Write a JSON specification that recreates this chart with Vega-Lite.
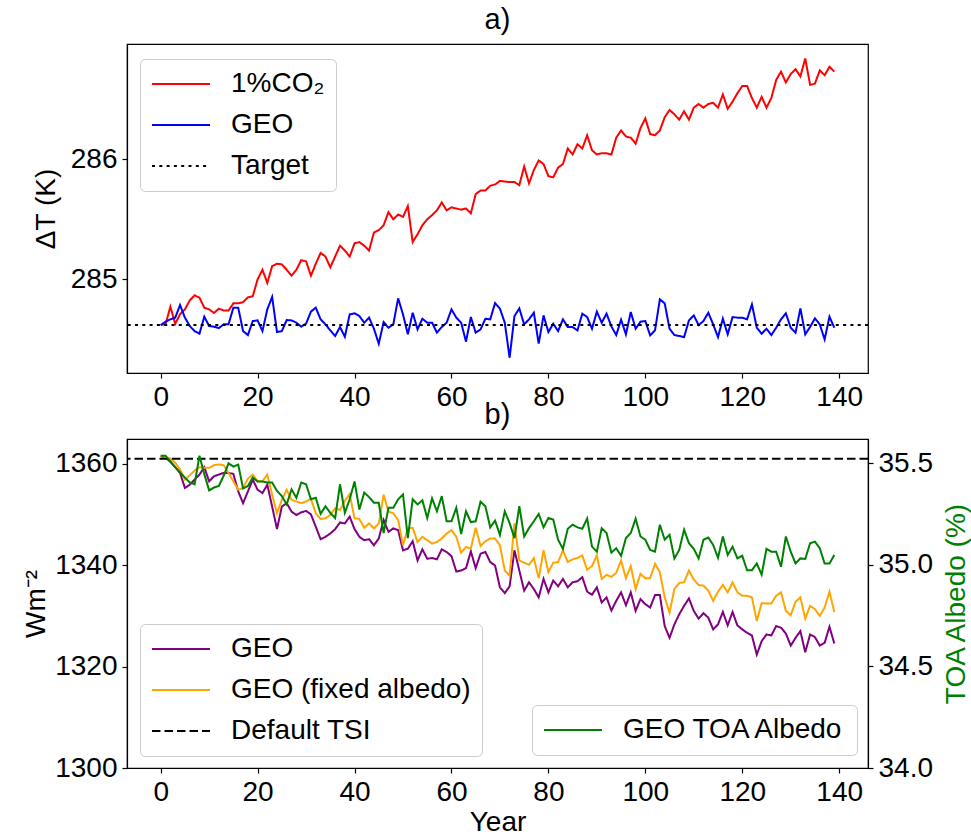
{
"$schema":"https://vega.github.io/schema/vega-lite/v6.json",
"padding":{"left":22,"top":5,"right":5,"bottom":5},
"config":{
 "font":"Liberation Sans",
 "view":{"stroke":"black","strokeWidth":1.2},
 "axis":{"grid":false,"domainColor":"black","domainWidth":1.2,"tickColor":"black","tickWidth":1.2,"tickSize":5,"labelFontSize":28,"labelColor":"black","titleFontSize":28,"titleFontWeight":"normal","titleColor":"black","labelPadding":5,"labelFont":"Liberation Sans","titleFont":"Liberation Sans"},
 "title":{"fontSize":29,"fontWeight":"normal","offset":9,"font":"Liberation Sans","color":"black"},
 "legend":{"title":null,"symbolType":"stroke","symbolSize":3364,"symbolStrokeWidth":2,"labelFontSize":28,"labelOffset":20,"clipHeight":28,"rowPadding":13,"padding":11,"labelLimit":0,"strokeColor":"#cccccc","fillColor":"rgba(255,255,255,0.8)","cornerRadius":5,"labelColor":"black","labelFont":"Liberation Sans","orient":"none"}
},
"datasets":{
 "main":[
{"year":0,"co2":284.62,"geoT":284.619,"geoS":1361.53,"geoSfix":1361.53,"alb":35.538},
{"year":1,"co2":284.625,"geoT":284.647,"geoS":1361.2,"geoSfix":1361.33,"alb":35.538},
{"year":2,"co2":284.772,"geoT":284.667,"geoS":1360.4,"geoSfix":1361.07,"alb":35.51},
{"year":3,"co2":284.63,"geoT":284.681,"geoS":1359.34,"geoSfix":1360.21,"alb":35.48},
{"year":4,"co2":284.71,"geoT":284.786,"geoS":1358.21,"geoSfix":1358.88,"alb":35.455},
{"year":5,"co2":284.75,"geoT":284.681,"geoS":1355.23,"geoSfix":1356.89,"alb":35.43},
{"year":6,"co2":284.825,"geoT":284.611,"geoS":1355.89,"geoSfix":1357.75,"alb":35.406},
{"year":7,"co2":284.867,"geoT":284.569,"geoS":1356.89,"geoSfix":1358.68,"alb":35.397},
{"year":8,"co2":284.847,"geoT":284.547,"geoS":1357.88,"geoSfix":1359.34,"alb":35.538},
{"year":9,"co2":284.764,"geoT":284.689,"geoS":1359.34,"geoSfix":1359.21,"alb":35.447},
{"year":10,"co2":284.75,"geoT":284.611,"geoS":1356.55,"geoSfix":1359.21,"alb":35.367},
{"year":11,"co2":284.72,"geoT":284.606,"geoS":1357.55,"geoSfix":1359.74,"alb":35.381},
{"year":12,"co2":284.756,"geoT":284.594,"geoS":1357.88,"geoSfix":1359.87,"alb":35.389},
{"year":13,"co2":284.74,"geoT":284.625,"geoS":1358.21,"geoSfix":1359.74,"alb":35.439},
{"year":14,"co2":284.74,"geoT":284.625,"geoS":1358.21,"geoSfix":1358.21,"alb":35.5},
{"year":15,"co2":284.8,"geoT":284.764,"geoS":1358.01,"geoSfix":1356.55,"alb":35.484},
{"year":16,"co2":284.8,"geoT":284.764,"geoS":1354.56,"geoSfix":1354.89,"alb":35.494},
{"year":17,"co2":284.81,"geoT":284.569,"geoS":1352.24,"geoSfix":1355.23,"alb":35.376},
{"year":18,"co2":284.85,"geoT":284.536,"geoS":1354.56,"geoSfix":1357.08,"alb":35.389},
{"year":19,"co2":284.86,"geoT":284.653,"geoS":1356.89,"geoSfix":1357.88,"alb":35.43},
{"year":20,"co2":285.0,"geoT":284.658,"geoS":1354.89,"geoSfix":1356.55,"alb":35.411},
{"year":21,"co2":285.08,"geoT":284.569,"geoS":1354.23,"geoSfix":1356.55,"alb":35.411},
{"year":22,"co2":284.97,"geoT":284.75,"geoS":1355.89,"geoSfix":1357.88,"alb":35.406},
{"year":23,"co2":285.11,"geoT":284.853,"geoS":1351.57,"geoSfix":1353.9,"alb":35.406},
{"year":24,"co2":285.13,"geoT":284.561,"geoS":1347.12,"geoSfix":1350.25,"alb":35.364},
{"year":25,"co2":285.125,"geoT":284.569,"geoS":1351.57,"geoSfix":1352.9,"alb":35.339},
{"year":26,"co2":285.08,"geoT":284.661,"geoS":1352.24,"geoSfix":1354.89,"alb":35.298},
{"year":27,"co2":285.03,"geoT":284.658,"geoS":1350.58,"geoSfix":1352.9,"alb":35.372},
{"year":28,"co2":285.08,"geoT":284.639,"geoS":1349.91,"geoSfix":1352.57,"alb":35.331},
{"year":29,"co2":285.16,"geoT":284.606,"geoS":1350.44,"geoSfix":1352.24,"alb":35.406},
{"year":30,"co2":285.15,"geoT":284.631,"geoS":1350.71,"geoSfix":1352.57,"alb":35.397},
{"year":31,"co2":285.03,"geoT":284.731,"geoS":1350.05,"geoSfix":1353.1,"alb":35.323},
{"year":32,"co2":285.13,"geoT":284.764,"geoS":1347.59,"geoSfix":1350.25,"alb":35.331},
{"year":33,"co2":285.22,"geoT":284.667,"geoS":1345.13,"geoSfix":1349.12,"alb":35.251},
{"year":34,"co2":285.19,"geoT":284.625,"geoS":1345.6,"geoSfix":1349.25,"alb":35.289},
{"year":35,"co2":285.1,"geoT":284.575,"geoS":1346.26,"geoSfix":1349.91,"alb":35.256},
{"year":36,"co2":285.19,"geoT":284.528,"geoS":1347.12,"geoSfix":1351.24,"alb":35.231},
{"year":37,"co2":285.28,"geoT":284.603,"geoS":1348.45,"geoSfix":1350.91,"alb":35.397},
{"year":38,"co2":285.24,"geoT":284.522,"geoS":1348.25,"geoSfix":1352.7,"alb":35.256},
{"year":39,"co2":285.19,"geoT":284.708,"geoS":1349.58,"geoSfix":1354.03,"alb":35.323},
{"year":40,"co2":285.3,"geoT":284.717,"geoS":1347.12,"geoSfix":1349.25,"alb":35.411},
{"year":41,"co2":285.31,"geoT":284.694,"geoS":1345.6,"geoSfix":1349.12,"alb":35.273},
{"year":42,"co2":285.28,"geoT":284.639,"geoS":1344.93,"geoSfix":1347.39,"alb":35.356},
{"year":43,"co2":285.24,"geoT":284.681,"geoS":1345.13,"geoSfix":1348.25,"alb":35.334},
{"year":44,"co2":285.39,"geoT":284.589,"geoS":1343.94,"geoSfix":1347.26,"alb":35.306},
{"year":45,"co2":285.41,"geoT":284.464,"geoS":1345.27,"geoSfix":1348.25,"alb":35.306},
{"year":46,"co2":285.45,"geoT":284.644,"geoS":1348.92,"geoSfix":1353.9,"alb":35.157},
{"year":47,"co2":285.56,"geoT":284.597,"geoS":1346.59,"geoSfix":1350.58,"alb":35.281},
{"year":48,"co2":285.5,"geoT":284.625,"geoS":1347.26,"geoSfix":1350.25,"alb":35.281},
{"year":49,"co2":285.54,"geoT":284.842,"geoS":1346.93,"geoSfix":1348.92,"alb":35.323},
{"year":50,"co2":285.52,"geoT":284.708,"geoS":1342.94,"geoSfix":1343.94,"alb":35.347},
{"year":51,"co2":285.61,"geoT":284.542,"geoS":1343.27,"geoSfix":1347.26,"alb":35.132},
{"year":52,"co2":285.31,"geoT":284.722,"geoS":1344.73,"geoSfix":1347.39,"alb":35.323},
{"year":53,"co2":285.375,"geoT":284.583,"geoS":1340.95,"geoSfix":1344.6,"alb":35.298},
{"year":54,"co2":285.45,"geoT":284.672,"geoS":1343.14,"geoSfix":1345.6,"alb":35.318},
{"year":55,"co2":285.5,"geoT":284.639,"geoS":1341.28,"geoSfix":1344.93,"alb":35.231},
{"year":56,"co2":285.535,"geoT":284.639,"geoS":1341.41,"geoSfix":1344.27,"alb":35.328},
{"year":57,"co2":285.575,"geoT":284.556,"geoS":1341.15,"geoSfix":1344.6,"alb":35.264},
{"year":58,"co2":285.64,"geoT":284.603,"geoS":1343.14,"geoSfix":1345.27,"alb":35.339},
{"year":59,"co2":285.575,"geoT":284.639,"geoS":1342.61,"geoSfix":1346.26,"alb":35.215},
{"year":60,"co2":285.6,"geoT":284.75,"geoS":1341.81,"geoSfix":1346.93,"alb":35.215},
{"year":61,"co2":285.59,"geoT":284.681,"geoS":1338.76,"geoSfix":1345.6,"alb":35.281},
{"year":62,"co2":285.58,"geoT":284.639,"geoS":1338.96,"geoSfix":1342.48,"alb":35.152},
{"year":63,"co2":285.59,"geoT":284.481,"geoS":1339.42,"geoSfix":1343.61,"alb":35.264},
{"year":64,"co2":285.55,"geoT":284.686,"geoS":1342.74,"geoSfix":1343.27,"alb":35.211},
{"year":65,"co2":285.71,"geoT":284.556,"geoS":1339.42,"geoSfix":1347.39,"alb":35.215},
{"year":66,"co2":285.74,"geoT":284.583,"geoS":1342.28,"geoSfix":1343.8,"alb":35.311},
{"year":67,"co2":285.74,"geoT":284.672,"geoS":1342.61,"geoSfix":1344.73,"alb":35.289},
{"year":68,"co2":285.78,"geoT":284.667,"geoS":1340.62,"geoSfix":1345.27,"alb":35.185},
{"year":69,"co2":285.79,"geoT":284.803,"geoS":1339.95,"geoSfix":1345.27,"alb":35.218},
{"year":70,"co2":285.82,"geoT":284.756,"geoS":1335.64,"geoSfix":1343.94,"alb":35.148},
{"year":71,"co2":285.815,"geoT":284.639,"geoS":1334.51,"geoSfix":1338.96,"alb":35.264},
{"year":72,"co2":285.81,"geoT":284.347,"geoS":1335.84,"geoSfix":1337.96,"alb":35.206},
{"year":73,"co2":285.81,"geoT":284.694,"geoS":1342.94,"geoSfix":1348.25,"alb":35.132},
{"year":74,"co2":285.785,"geoT":284.758,"geoS":1338.96,"geoSfix":1340.95,"alb":35.289},
{"year":75,"co2":285.94,"geoT":284.625,"geoS":1334.98,"geoSfix":1340.49,"alb":35.14},
{"year":76,"co2":285.8,"geoT":284.667,"geoS":1336.64,"geoSfix":1340.09,"alb":35.181},
{"year":77,"co2":285.91,"geoT":284.722,"geoS":1335.31,"geoSfix":1341.41,"alb":35.215},
{"year":78,"co2":285.99,"geoT":284.464,"geoS":1333.65,"geoSfix":1337.43,"alb":35.251},
{"year":79,"co2":285.96,"geoT":284.7,"geoS":1337.3,"geoSfix":1342.94,"alb":35.185},
{"year":80,"co2":285.86,"geoT":284.561,"geoS":1334.64,"geoSfix":1338.63,"alb":35.231},
{"year":81,"co2":285.85,"geoT":284.631,"geoS":1336.97,"geoSfix":1340.49,"alb":35.223},
{"year":82,"co2":285.93,"geoT":284.569,"geoS":1335.84,"geoSfix":1340.62,"alb":35.124},
{"year":83,"co2":285.96,"geoT":284.667,"geoS":1337.3,"geoSfix":1342.94,"alb":35.079},
{"year":84,"co2":286.09,"geoT":284.603,"geoS":1335.64,"geoSfix":1340.62,"alb":35.178},
{"year":85,"co2":286.04,"geoT":284.603,"geoS":1336.64,"geoSfix":1341.15,"alb":35.198},
{"year":86,"co2":286.125,"geoT":284.575,"geoS":1336.84,"geoSfix":1341.41,"alb":35.185},
{"year":87,"co2":286.09,"geoT":284.714,"geoS":1337.64,"geoSfix":1341.94,"alb":35.178},
{"year":88,"co2":286.2,"geoT":284.686,"geoS":1334.78,"geoSfix":1339.09,"alb":35.228},
{"year":89,"co2":286.075,"geoT":284.589,"geoS":1334.18,"geoSfix":1339.83,"alb":35.09},
{"year":90,"co2":286.04,"geoT":284.731,"geoS":1335.64,"geoSfix":1341.94,"alb":35.065},
{"year":91,"co2":286.05,"geoT":284.639,"geoS":1332.65,"geoSfix":1337.3,"alb":35.181},
{"year":92,"co2":286.05,"geoT":284.714,"geoS":1333.65,"geoSfix":1338.1,"alb":35.157},
{"year":93,"co2":286.04,"geoT":284.608,"geoS":1331.06,"geoSfix":1337.7,"alb":35.06},
{"year":94,"co2":286.18,"geoT":284.536,"geoS":1332.98,"geoSfix":1338.49,"alb":35.082},
{"year":95,"co2":286.24,"geoT":284.664,"geoS":1334.64,"geoSfix":1340.95,"alb":35.045},
{"year":96,"co2":286.19,"geoT":284.542,"geoS":1332.11,"geoSfix":1337.43,"alb":35.132},
{"year":97,"co2":286.18,"geoT":284.728,"geoS":1334.64,"geoSfix":1339.83,"alb":35.157},
{"year":98,"co2":286.13,"geoT":284.589,"geoS":1330.99,"geoSfix":1335.31,"alb":35.228},
{"year":99,"co2":286.26,"geoT":284.647,"geoS":1333.32,"geoSfix":1338.3,"alb":35.14},
{"year":100,"co2":286.34,"geoT":284.653,"geoS":1332.32,"geoSfix":1337.43,"alb":35.124},
{"year":101,"co2":286.21,"geoT":284.533,"geoS":1331.66,"geoSfix":1337.43,"alb":35.074},
{"year":102,"co2":286.2,"geoT":284.575,"geoS":1334.11,"geoSfix":1340.29,"alb":35.065},
{"year":103,"co2":286.24,"geoT":284.833,"geoS":1334.11,"geoSfix":1338.63,"alb":35.198},
{"year":104,"co2":286.35,"geoT":284.8,"geoS":1328.0,"geoSfix":1333.65,"alb":35.124},
{"year":105,"co2":286.41,"geoT":284.589,"geoS":1325.68,"geoSfix":1330.66,"alb":35.148},
{"year":106,"co2":286.375,"geoT":284.536,"geoS":1328.33,"geoSfix":1335.31,"alb":35.032},
{"year":107,"co2":286.33,"geoT":284.528,"geoS":1330.33,"geoSfix":1336.5,"alb":35.074},
{"year":108,"co2":286.4,"geoT":284.519,"geoS":1331.99,"geoSfix":1336.64,"alb":35.173},
{"year":109,"co2":286.33,"geoT":284.658,"geoS":1333.45,"geoSfix":1338.96,"alb":35.107},
{"year":110,"co2":286.43,"geoT":284.7,"geoS":1330.99,"geoSfix":1337.17,"alb":35.079},
{"year":111,"co2":286.46,"geoT":284.619,"geoS":1329.46,"geoSfix":1336.1,"alb":35.032},
{"year":112,"co2":286.43,"geoT":284.653,"geoS":1330.53,"geoSfix":1335.97,"alb":35.124},
{"year":113,"co2":286.46,"geoT":284.722,"geoS":1329.66,"geoSfix":1334.98,"alb":35.135},
{"year":114,"co2":286.47,"geoT":284.625,"geoS":1327.34,"geoSfix":1332.98,"alb":35.098},
{"year":115,"co2":286.43,"geoT":284.519,"geoS":1328.33,"geoSfix":1334.78,"alb":35.035},
{"year":116,"co2":286.54,"geoT":284.672,"geoS":1330.79,"geoSfix":1336.1,"alb":35.14},
{"year":117,"co2":286.42,"geoT":284.542,"geoS":1328.13,"geoSfix":1334.64,"alb":35.049},
{"year":118,"co2":286.48,"geoT":284.686,"geoS":1330.79,"geoSfix":1336.64,"alb":35.09},
{"year":119,"co2":286.55,"geoT":284.681,"geoS":1328.13,"geoSfix":1334.64,"alb":35.032},
{"year":120,"co2":286.61,"geoT":284.681,"geoS":1327.34,"geoSfix":1333.98,"alb":35.045},
{"year":121,"co2":286.61,"geoT":284.667,"geoS":1326.67,"geoSfix":1333.98,"alb":34.974},
{"year":122,"co2":286.51,"geoT":284.792,"geoS":1326.14,"geoSfix":1333.65,"alb":34.974},
{"year":123,"co2":286.43,"geoT":284.597,"geoS":1322.36,"geoSfix":1329.0,"alb":35.007},
{"year":124,"co2":286.52,"geoT":284.547,"geoS":1325.01,"geoSfix":1332.52,"alb":34.952},
{"year":125,"co2":286.43,"geoT":284.589,"geoS":1326.34,"geoSfix":1332.45,"alb":35.079},
{"year":126,"co2":286.51,"geoT":284.536,"geoS":1326.14,"geoSfix":1332.45,"alb":35.065},
{"year":127,"co2":286.66,"geoT":284.597,"geoS":1328.0,"geoSfix":1333.98,"alb":35.065},
{"year":128,"co2":286.73,"geoT":284.667,"geoS":1327.67,"geoSfix":1334.64,"alb":34.991},
{"year":129,"co2":286.64,"geoT":284.717,"geoS":1326.54,"geoSfix":1330.99,"alb":35.14},
{"year":130,"co2":286.71,"geoT":284.597,"geoS":1324.15,"geoSfix":1330.13,"alb":35.065},
{"year":131,"co2":286.75,"geoT":284.556,"geoS":1325.68,"geoSfix":1332.78,"alb":35.007},
{"year":132,"co2":286.69,"geoT":284.758,"geoS":1327.0,"geoSfix":1333.65,"alb":35.032},
{"year":133,"co2":286.84,"geoT":284.542,"geoS":1322.82,"geoSfix":1329.46,"alb":35.029},
{"year":134,"co2":286.62,"geoT":284.603,"geoS":1326.34,"geoSfix":1331.99,"alb":35.107},
{"year":135,"co2":286.63,"geoT":284.675,"geoS":1325.81,"geoSfix":1331.33,"alb":35.115},
{"year":136,"co2":286.74,"geoT":284.625,"geoS":1324.15,"geoSfix":1330.0,"alb":35.082},
{"year":137,"co2":286.7,"geoT":284.5,"geoS":1324.68,"geoSfix":1331.66,"alb":35.007},
{"year":138,"co2":286.77,"geoT":284.689,"geoS":1327.87,"geoSfix":1334.78,"alb":35.007},
{"year":139,"co2":286.73,"geoT":284.597,"geoS":1324.55,"geoSfix":1330.79,"alb":35.049}
 ],
 "target":[{"series":"target","T":284.62}],
 "tsi":[{"series":"tsi","W":1361}]
},
"vconcat":[
 {
  "title":{"text":"a)"},
  "width":741,"height":329,
  "layer":[
   {"data":{"name":"main"},
    "transform":[{"fold":["co2","geoT"],"as":["series","T"]}],
    "mark":{"type":"line","strokeWidth":2},
    "encoding":{
     "x":{"field":"year","type":"quantitative","scale":{"domain":[-6.95,145.95],"nice":false,"zero":false},"axis":{"values":[0,20,40,60,80,100,120,140],"format":"d","title":null}},
     "y":{"field":"T","type":"quantitative","scale":{"domain":[284.22,286.96],"nice":false,"zero":false},"axis":{"values":[285,286],"format":"d","title":"ΔT (K)","titlePadding":10}},
     "color":{"field":"series","type":"nominal","scale":{"domain":["co2","geoT","target"],"range":["red","blue","black"]},
       "legend":{"legendX":13,"legendY":15,"labelExpr":"datum.label=='co2'?'1%CO₂':datum.label=='geoT'?'GEO':'Target'"}},
     "strokeDash":{"field":"series","type":"nominal","scale":{"domain":["co2","geoT","target"],"range":[[1,0],[1,0],[3,4.3]]},
       "legend":{"legendX":13,"legendY":15,"labelExpr":"datum.label=='co2'?'1%CO₂':datum.label=='geoT'?'GEO':'Target'"}}
    }},
   {"data":{"name":"target"},
    "mark":{"type":"rule","strokeWidth":2},
    "encoding":{
     "y":{"field":"T","type":"quantitative"},
     "color":{"field":"series","type":"nominal"},
     "strokeDash":{"field":"series","type":"nominal"}
    }}
  ]
 },
 {
  "title":{"text":"b)"},
  "width":741,"height":329,
  "layer":[
   {"layer":[
     {"data":{"name":"main"},
      "transform":[{"fold":["geoS","geoSfix"],"as":["series","W"]}],
      "mark":{"type":"line","strokeWidth":2},
      "encoding":{
       "x":{"field":"year","type":"quantitative","scale":{"domain":[-6.95,145.95],"nice":false,"zero":false},"axis":{"values":[0,20,40,60,80,100,120,140],"format":"d","title":"Year","titlePadding":2}},
       "y":{"field":"W","type":"quantitative","scale":{"domain":[1300,1364.9],"nice":false,"zero":false},"axis":{"values":[1300,1320,1340,1360],"format":"d","title":"Wm⁻²","titlePadding":4}},
       "color":{"field":"series","type":"nominal","scale":{"domain":["geoS","geoSfix","tsi"],"range":["purple","orange","black"]},
         "legend":{"legendX":13,"legendY":185,"labelExpr":"datum.label=='geoS'?'GEO':datum.label=='geoSfix'?'GEO (fixed albedo)':'Default TSI'"}},
       "strokeDash":{"field":"series","type":"nominal","scale":{"domain":["geoS","geoSfix","tsi"],"range":[[1,0],[1,0],[8.5,4]]},
         "legend":{"legendX":13,"legendY":185,"labelExpr":"datum.label=='geoS'?'GEO':datum.label=='geoSfix'?'GEO (fixed albedo)':'Default TSI'"}}
      }},
     {"data":{"name":"tsi"},
      "mark":{"type":"rule","strokeWidth":2},
      "encoding":{
       "y":{"field":"W","type":"quantitative"},
       "color":{"field":"series","type":"nominal"},
       "strokeDash":{"field":"series","type":"nominal"}
      }}
   ]},
   {"data":{"name":"main"},
    "transform":[{"fold":["alb"],"as":["series","A"]}],
    "mark":{"type":"line","strokeWidth":2},
    "encoding":{
     "x":{"field":"year","type":"quantitative","scale":{"domain":[-6.95,145.95],"nice":false,"zero":false}},
     "y":{"field":"A","type":"quantitative","scale":{"domain":[34.0,35.62],"nice":false,"zero":false},"axis":{"orient":"right","values":[34.0,34.5,35.0,35.5],"format":".1f","title":"TOA Albedo (%)","titleColor":"green","titleAngle":270,"titlePadding":38}},
     "color":{"field":"series","type":"nominal","scale":{"domain":["alb"],"range":["green"]},
       "legend":{"legendX":405,"legendY":266,"labelExpr":"'GEO TOA Albedo'"}}
    }}
  ],
  "resolve":{"scale":{"y":"independent","color":"independent","strokeDash":"independent"}}
 }
],
"spacing":66,
"bounds":"flush",
"resolve":{"scale":{"color":"independent","strokeDash":"independent","x":"independent","y":"independent"}}
}
